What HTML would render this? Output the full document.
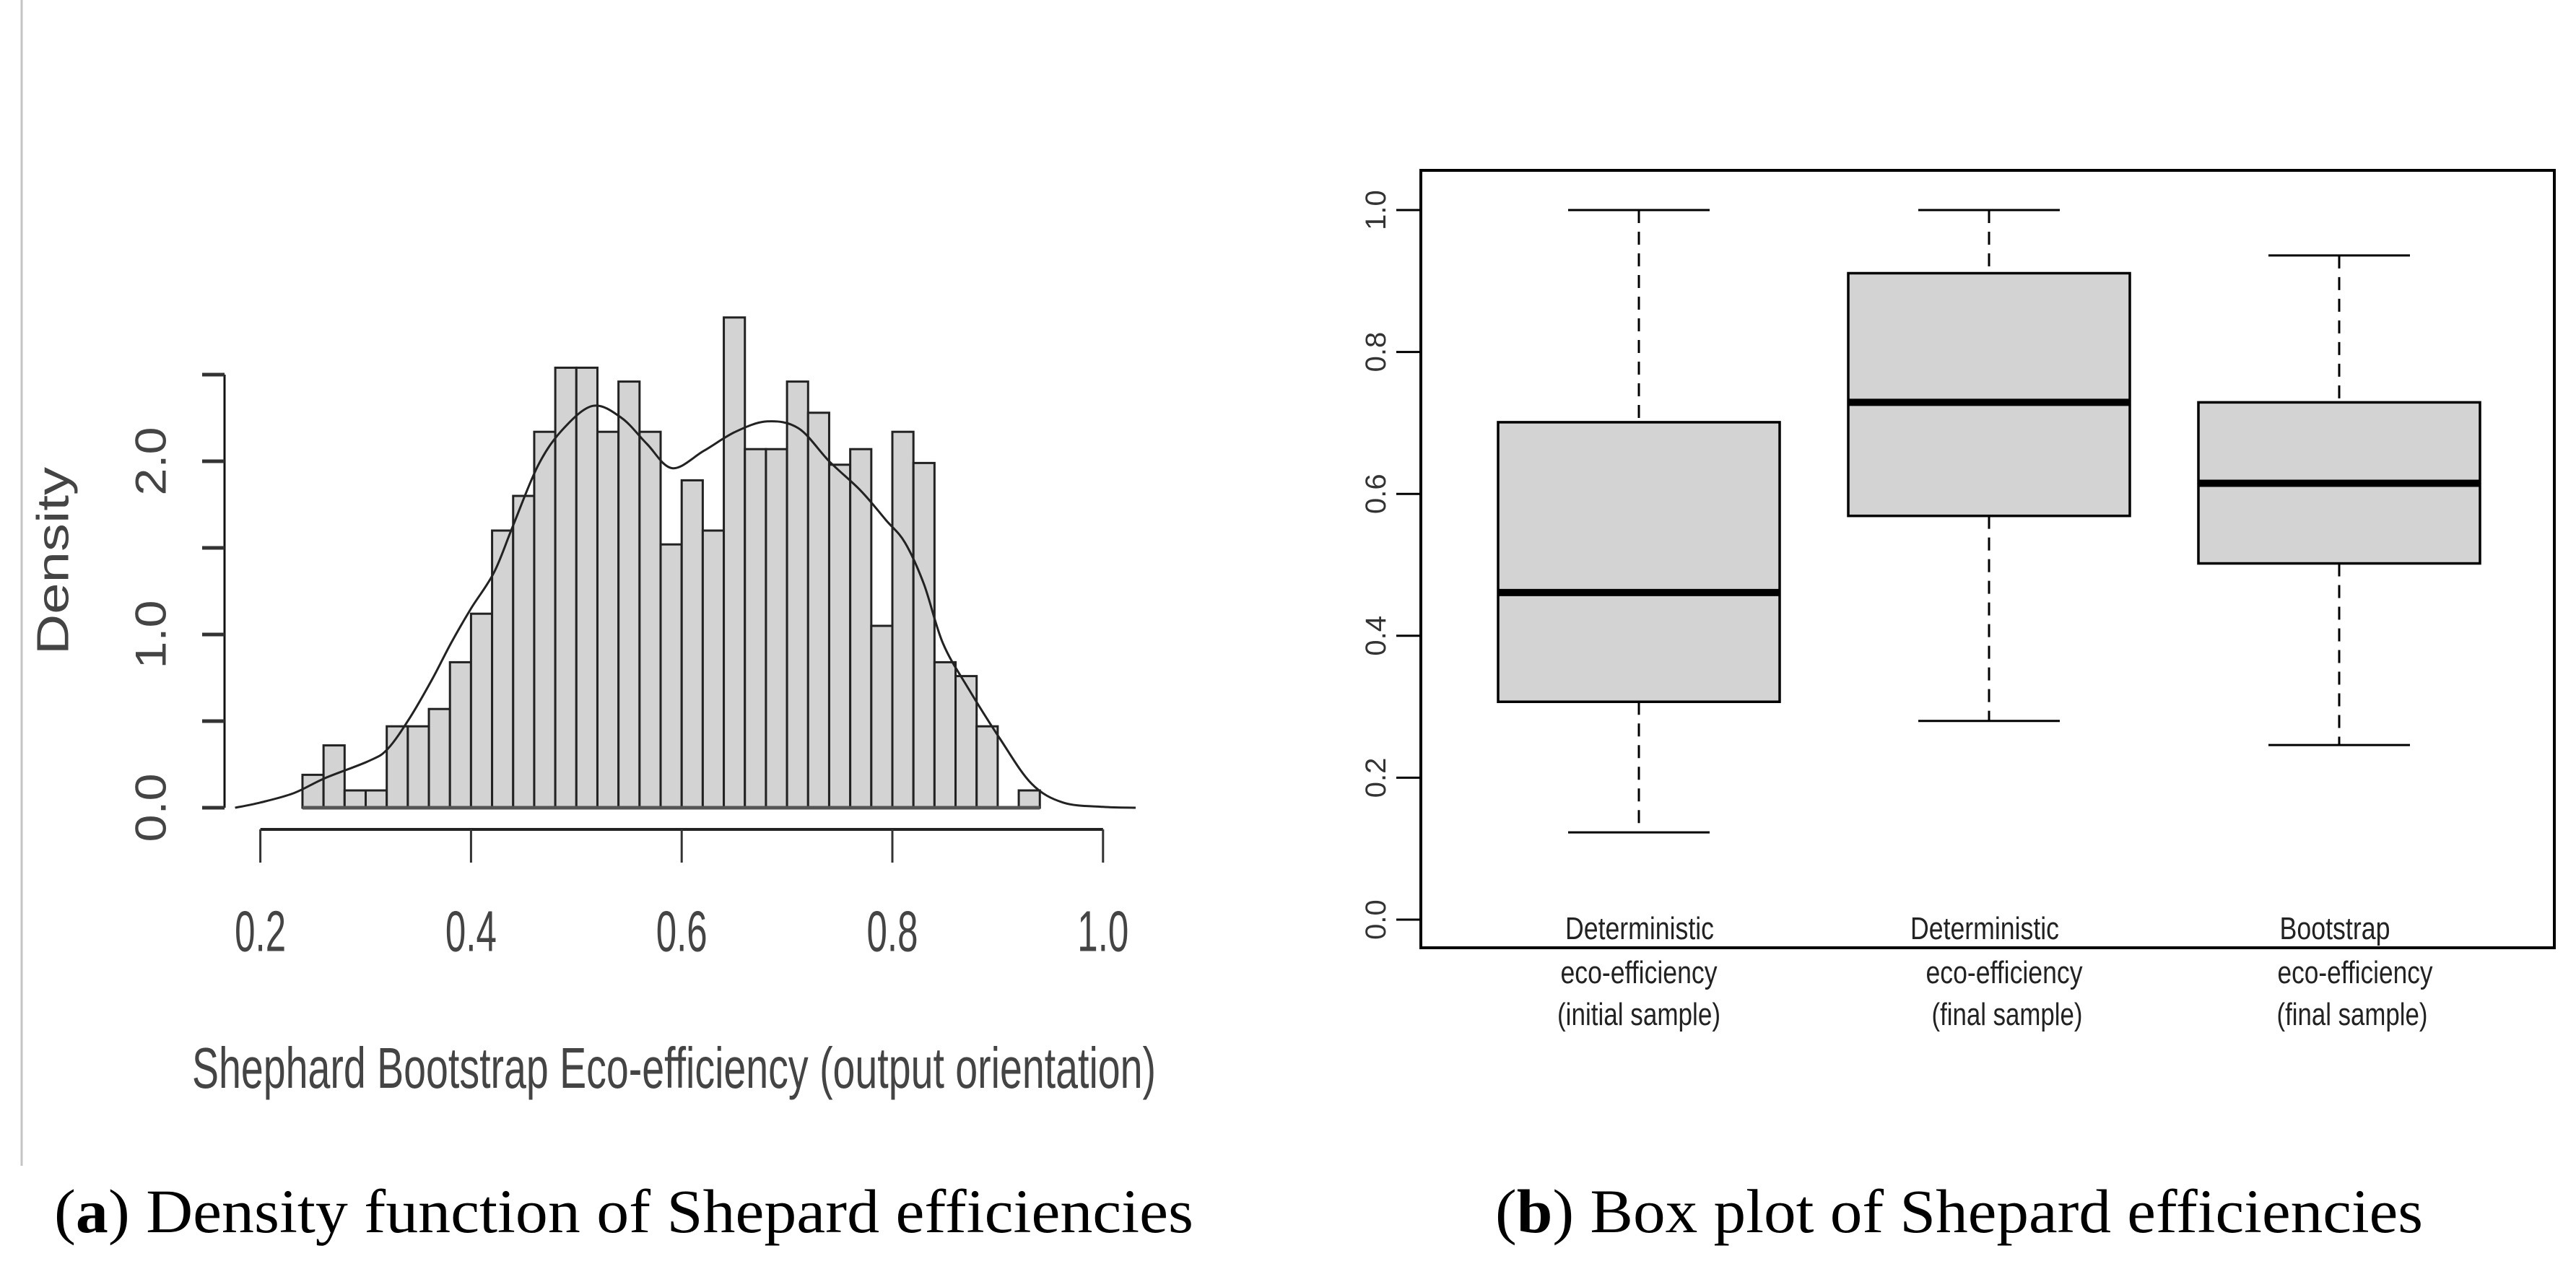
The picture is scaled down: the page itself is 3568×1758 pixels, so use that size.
<!DOCTYPE html>
<html><head><meta charset="utf-8">
<style>
html,body{margin:0;padding:0;background:#fff;}
svg{display:block;}
</style></head>
<body>
<svg id="fig" width="3568" height="1758" viewBox="0 0 3568 1758" xmlns="http://www.w3.org/2000/svg">
  <rect x="0" y="0" width="3568" height="1758" fill="#fff"/>
  <line x1="30" y1="0" x2="30" y2="1615" stroke="#c4c4c4" stroke-width="3"/>
  <g id="hist"></g>
  <g id="box"></g>
  <text x="75" y="1707" font-family="Liberation Serif, serif" font-size="86" textLength="1578" lengthAdjust="spacingAndGlyphs" fill="#000">(<tspan font-weight="bold">a</tspan>) Density function of Shepard efficiencies</text>
  <text x="2071" y="1707" font-family="Liberation Serif, serif" font-size="86" textLength="1285" lengthAdjust="spacingAndGlyphs" fill="#000">(<tspan font-weight="bold">b</tspan>) Box plot of Shepard efficiencies</text>
</svg>
<script>
// ---------- Histogram data ----------
const binStart = 0.24;
const binWidth = 0.02;
const binDensities = [0.19,0.36,0.10,0.10,0.47,0.47,0.57,0.84,1.12,1.60,1.80,2.17,2.54,2.54,2.17,2.46,2.17,1.52,1.89,1.60,2.83,2.07,2.07,2.46,2.28,1.98,2.07,1.05,2.17,1.99,0.84,0.76,0.47,0,0.10];
const densX = [0.176,0.20,0.232,0.261,0.303,0.321,0.342,0.363,0.381,0.400,0.422,0.440,0.464,0.488,0.516,0.543,0.567,0.591,0.621,0.651,0.681,0.711,0.740,0.770,0.794,0.812,0.830,0.848,0.872,0.902,0.932,0.962,1.000,1.031];
const densY = [0,0.03,0.085,0.17,0.27,0.34,0.52,0.74,0.95,1.15,1.36,1.63,1.98,2.19,2.32,2.25,2.10,1.96,2.06,2.17,2.23,2.19,2.00,1.83,1.66,1.53,1.29,0.95,0.69,0.40,0.14,0.03,0.005,0];
const histXTicks = [0.2,0.4,0.6,0.8,1.0];
const histXTickLabels = ["0.2","0.4","0.6","0.8","1.0"];
const histYTicks = [0,0.5,1.0,1.5,2.0,2.5];
const histYLabelVals = [0,1.0,2.0];
const histYLabels = ["0.0","1.0","2.0"];

// ---------- Box plot data ----------
const boxCategories = [["Deterministic","eco-efficiency","(initial sample)"],["Deterministic","eco-efficiency","(final sample)"],["Bootstrap","eco-efficiency","(final sample)"]];
const boxLow = [0.123,0.280,0.246];
const boxQ1 = [0.307,0.569,0.502];
const boxMedian = [0.461,0.729,0.615];
const boxQ3 = [0.701,0.911,0.729];
const boxHigh = [1.0,1.0,0.936];
const boxYTicks = [0,0.2,0.4,0.6,0.8,1.0];
const boxYTickLabels = ["0.0","0.2","0.4","0.6","0.8","1.0"];

const NS = "http://www.w3.org/2000/svg";
function mk(tag, attrs, parent){
  const e = document.createElementNS(NS, tag);
  for (const k in attrs) e.setAttribute(k, attrs[k]);
  parent.appendChild(e);
  return e;
}

// ---------- Histogram ----------
const H = document.getElementById('hist');
const hx = v => 360.6 + (v - 0.2) * 1459;
const hy = d => 1119 - d * 240;

binDensities.forEach((d, i) => {
  if (d <= 0) return;
  const x0 = hx(binStart + i * binWidth), x1 = hx(binStart + (i + 1) * binWidth);
  const r = mk('rect', {x: x0, y: hy(d), width: x1 - x0, height: hy(0) - hy(d), fill: '#d3d3d3', stroke: '#222', 'stroke-width': 3}, H);
  
  
});
const base = mk('line', {x1: hx(binStart), y1: hy(0), x2: hx(binStart + binDensities.length * binWidth), y2: hy(0), stroke: '#555', 'stroke-width': 5}, H);



// smooth curve (Catmull-Rom)
const pts = densX.map((v, i) => [hx(v), hy(densY[i])]);
let pd = 'M' + pts[0][0].toFixed(1) + ' ' + pts[0][1].toFixed(1);
for (let i = 0; i < pts.length - 1; i++) {
  const p0 = pts[Math.max(0, i - 1)], p1 = pts[i], p2 = pts[i + 1], p3 = pts[Math.min(pts.length - 1, i + 2)];
  const c1x = p1[0] + (p2[0] - p0[0]) / 6, c1y = p1[1] + (p2[1] - p0[1]) / 6;
  const c2x = p2[0] - (p3[0] - p1[0]) / 6, c2y = p2[1] - (p3[1] - p1[1]) / 6;
  pd += ' C' + c1x.toFixed(1) + ' ' + c1y.toFixed(1) + ' ' + c2x.toFixed(1) + ' ' + c2y.toFixed(1) + ' ' + p2[0].toFixed(1) + ' ' + p2[1].toFixed(1);
}
const curve = mk('path', {d: pd, fill: 'none', stroke: '#222', 'stroke-width': 3, 'stroke-linejoin': 'round'}, H);



// y axis
const yax = mk('line', {x1: 311, y1: hy(0), x2: 311, y2: hy(histYTicks[histYTicks.length - 1]), stroke: '#111', 'stroke-width': 3}, H);


histYTicks.forEach(t => {
  const l = mk('line', {x1: 280, y1: hy(t), x2: 311, y2: hy(t), stroke: '#333', 'stroke-width': 5}, H);
  
  
});
histYLabelVals.forEach((t, i) => {
  const tx = mk('text', {x: 209, y: hy(t), transform: 'rotate(-90 209 ' + hy(t) + ')', 'text-anchor': 'middle', 'dominant-baseline': 'central', 'font-family': 'Liberation Sans, sans-serif', 'font-size': 60, fill: '#444', textLength: 95, lengthAdjust: 'spacingAndGlyphs'}, H);
  tx.textContent = histYLabels[i];
  
  
});
const ylab = mk('text', {x: 74, y: 777, transform: 'rotate(-90 74 777)', 'text-anchor': 'middle', 'dominant-baseline': 'central', 'font-family': 'Liberation Sans, sans-serif', 'font-size': 62, fill: '#444', textLength: 260, lengthAdjust: 'spacingAndGlyphs'}, H);
ylab.textContent = 'Density';



// x axis
const xax = mk('line', {x1: hx(histXTicks[0]), y1: 1149, x2: hx(histXTicks[histXTicks.length - 1]), y2: 1149, stroke: '#222', 'stroke-width': 4}, H);


histXTicks.forEach((t, i) => {
  const l = mk('line', {x1: hx(t), y1: 1149, x2: hx(t), y2: 1195, stroke: '#333', 'stroke-width': 3}, H);
  
  
  const tx = mk('text', {x: hx(t), y: 1290, 'text-anchor': 'middle', 'dominant-baseline': 'central', 'font-family': 'Liberation Sans, sans-serif', 'font-size': 80, fill: '#444', textLength: 71, lengthAdjust: 'spacingAndGlyphs'}, H);
  tx.textContent = histXTickLabels[i];
  
  
});
const xt = mk('text', {x: 266, y: 1507, 'font-family': 'Liberation Sans, sans-serif', 'font-size': 80, fill: '#444', textLength: 1335, lengthAdjust: 'spacingAndGlyphs'}, H);
xt.textContent = 'Shephard Bootstrap Eco-efficiency (output orientation)';



// ---------- Box plot ----------
const B = document.getElementById('box');
const by = v => 1274 - v * 983;
const bcx = i => 2270 + i * 485;
const boxW = 390, capW = 196;

const frame = mk('rect', {x: 1968, y: 236, width: 1570, height: 1077, fill: 'none', stroke: '#000', 'stroke-width': 4}, B);



boxYTicks.forEach((t, i) => {
  const l = mk('line', {x1: 1934, y1: by(t), x2: 1968, y2: by(t), stroke: '#000', 'stroke-width': 3}, B);
  
  
  const tx = mk('text', {x: 1906, y: by(t), transform: 'rotate(-90 1906 ' + by(t) + ')', 'text-anchor': 'middle', 'dominant-baseline': 'central', 'font-family': 'Liberation Sans, sans-serif', 'font-size': 40, fill: '#333'}, B);
  tx.textContent = boxYTickLabels[i];
  
  
});

boxCategories.forEach((cat, i) => {
  const c = bcx(i);
  const w1 = mk('line', {x1: c, y1: by(boxHigh[i]), x2: c, y2: by(boxQ3[i]), stroke: '#000', 'stroke-width': 3, 'stroke-dasharray': '18 12'}, B);
  
  
  const w2 = mk('line', {x1: c, y1: by(boxQ1[i]), x2: c, y2: by(boxLow[i]), stroke: '#000', 'stroke-width': 3, 'stroke-dasharray': '18 12'}, B);
  
  
  const c1 = mk('line', {x1: c - capW / 2, y1: by(boxHigh[i]), x2: c + capW / 2, y2: by(boxHigh[i]), stroke: '#000', 'stroke-width': 3}, B);
  
  
  const c2 = mk('line', {x1: c - capW / 2, y1: by(boxLow[i]), x2: c + capW / 2, y2: by(boxLow[i]), stroke: '#000', 'stroke-width': 3}, B);
  
  
  const r = mk('rect', {x: c - boxW / 2, y: by(boxQ3[i]), width: boxW, height: by(boxQ1[i]) - by(boxQ3[i]), fill: '#d3d3d3', stroke: '#000', 'stroke-width': 3.5}, B);
  
  
  const m = mk('line', {x1: c - boxW / 2, y1: by(boxMedian[i]), x2: c + boxW / 2, y2: by(boxMedian[i]), stroke: '#000', 'stroke-width': 10}, B);
  
  
});

// category labels (layout positions)
const labelPos = [[[2271,206],[2270,217],[2270,226]],[[2749,206],[2776,217],[2780,209]],[[3234,153],[3262,215],[3258,209]]];
const labelY = [1301, 1362, 1420];
boxCategories.forEach((cat, i) => {
  cat.forEach((s, j) => {
    const tx = mk('text', {x: labelPos[i][j][0], y: labelY[j], 'text-anchor': 'middle', 'font-family': 'Liberation Sans, sans-serif', 'font-size': 44, fill: '#222', textLength: labelPos[i][j][1], lengthAdjust: 'spacingAndGlyphs'}, B);
    tx.textContent = s;
    
    
  });
});
</script>
</body></html>
